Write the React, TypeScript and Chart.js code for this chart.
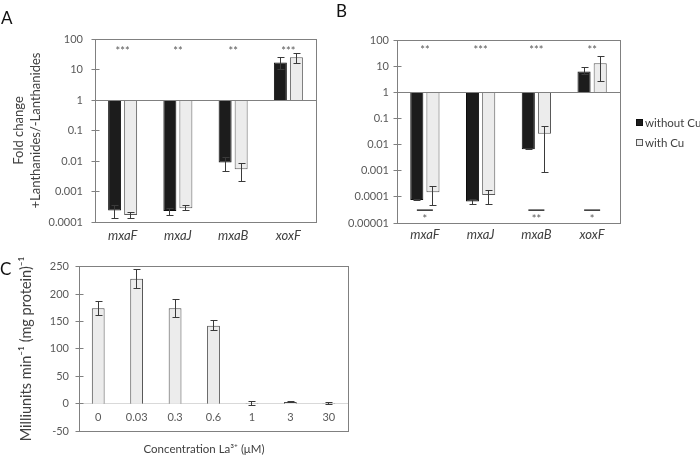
import React, { useEffect, useRef } from 'react';
import { Chart, registerables } from 'chart.js';
Chart.register(...registerables);

// ---------- data ----------
const genes = ['mxaF', 'mxaJ', 'mxaB', 'xoxF'];
const seriesNames = ['without Cu', 'with Cu'];

// Panel A (fold change, log scale)
const aWithout = [0.00024, 0.00023, 0.0089, 17];
const aWith = [0.00017, 0.00028, 0.0054, 25];
const aWithoutErr = [[0.000132, 0.00034], [0.000166, 0.00027], [0.0047, 0.0129], [10, 25]];
const aWithErr = [[0.000132, 0.00021], [0.00023, 0.00034], [0.0021, 0.0084], [16, 34]];
const aTicks = [0.0001, 0.001, 0.01, 0.1, 1, 10, 100];
const aTickLabels = ['0.0001', '0.001', '0.01', '0.1', '1', '10', '100'];
const aStars = ['***', '**', '**', '***'];

// Panel B
const bWithout = [0.000076, 0.000066, 0.0066, 6.3];
const bWith = [0.00015, 0.000118, 0.026, 13];
const bWithoutErr = [[0.00007, 0.00008], [0.000052, 0.000078], [0.0062, 0.007], [4.7, 8.5]];
const bWithErr = [[0.000045, 0.00026], [0.000052, 0.00018], [0.00089, 0.05], [2.6, 23.7]];
const bTicks = [0.00001, 0.0001, 0.001, 0.01, 0.1, 1, 10, 100];
const bTickLabels = ['0.00001', '0.0001', '0.001', '0.01', '0.1', '1', '10', '100'];
const bStars = ['**', '***', '***', '**'];
const bBottomStars = ['*', '', '**', '*'];

// Panel C
const concLabels = ['0', '0.03', '0.3', '0.6', '1', '3', '30'];
const activity = [174, 228, 174, 142, 1, 3, 1];
const activityErr = [[161, 186], [210, 245], [157, 190], [134, 151], [-4, 5], [2, 4], [-1, 2]];
const cTicks = [-50, 0, 50, 100, 150, 200, 250];

// ---------- styles ----------
const FONT = "Lato, 'Open Sans', sans-serif";
const AXIS = '#808080';
const TICK_TEXT = '#595959';
const DARK_TEXT = '#404040';
const BLACK_BAR = '#1c1c1c';
const LIGHT_BAR = '#ececec';
const BAR_EDGE = '#595959';

const crisp = (v: number) => Math.round(v - 0.5) + 0.5;

const decorPlugin: any = {
  id: 'decor',
  afterDatasetsDraw(chart: any, _args: any, opts: any) {
    const { ctx, chartArea: ca, scales } = chart;
    const ys = scales.y;
    const xs = scales.x;
    ctx.save();
    ctx.lineWidth = 1;
    // baseline
    if (opts.baseline != null) {
      const py = crisp(ys.getPixelForValue(opts.baseline));
      ctx.strokeStyle = AXIS;
      ctx.beginPath();
      ctx.moveTo(ca.left, py);
      ctx.lineTo(ca.right, py);
      ctx.stroke();
    }
    // error bars
    ctx.strokeStyle = '#3a3a3a';
    const cw = opts.capHalf ?? 3;
    chart.data.datasets.forEach((ds: any, i: number) => {
      if (!ds.errors) return;
      const meta = chart.getDatasetMeta(i);
      meta.data.forEach((el: any, j: number) => {
        const [lo, hi] = ds.errors[j];
        const x = crisp(el.x);
        const y1 = crisp(ys.getPixelForValue(lo));
        const y2 = crisp(ys.getPixelForValue(hi));
        ctx.beginPath();
        ctx.moveTo(x, y1);
        ctx.lineTo(x, y2);
        ctx.moveTo(x - cw, y1);
        ctx.lineTo(x + cw + 1, y1);
        ctx.moveTo(x - cw, y2);
        ctx.lineTo(x + cw + 1, y2);
        ctx.stroke();
      });
    });
    // frame
    ctx.strokeStyle = AXIS;
    const l = crisp(ca.left), t = crisp(ca.top), r = crisp(ca.right), b = crisp(ca.bottom);
    ctx.strokeRect(l, t, r - l, b - t);
    // y tick marks crossing the axis
    ys.ticks.forEach((_: any, k: number) => {
      const py = crisp(ys.getPixelForTick(k));
      ctx.beginPath();
      ctx.moveTo(l - 4, py);
      ctx.lineTo(l + 4, py);
      ctx.stroke();
    });
    // significance stars on top
    ctx.fillStyle = TICK_TEXT;
    ctx.textAlign = 'center';
    ctx.textBaseline = 'middle';
    ctx.font = `11px ${FONT}`;
    if (opts.stars) {
      opts.stars.forEach((s: string, j: number) => {
        ctx.fillText(s, xs.getPixelForValue(j), ys.getPixelForValue(opts.starValue) + 3);
      });
    }
    if (opts.bottomStars) {
      ctx.strokeStyle = '#303030';
      ctx.lineWidth = 1.5;
      opts.bottomStars.forEach((s: string, j: number) => {
        if (!s) return;
        const cx = xs.getPixelForValue(j);
        const ly = ys.getPixelForValue(opts.bottomLineValue);
        ctx.beginPath();
        ctx.moveTo(cx - 8, ly);
        ctx.lineTo(cx + 8, ly);
        ctx.stroke();
        ctx.fillText(s, cx, ys.getPixelForValue(opts.bottomStarValue) + 3);
      });
    }
    ctx.restore();
  },
  afterDraw(chart: any, _args: any, opts: any) {
    const { ctx, chartArea: ca } = chart;
    ctx.save();
    if (opts.letter) {
      ctx.fillStyle = '#111';
      ctx.font = `17px ${FONT}`;
      ctx.textAlign = 'left';
      ctx.textBaseline = 'alphabetic';
      ctx.fillText(opts.letter.text, opts.letter.x, opts.letter.y);
    }
    if (opts.legend) {
      const midY = (ca.top + ca.bottom) / 2;
      chart.data.datasets.forEach((ds: any, i: number) => {
        const cy = Math.round(midY - 10 + i * 20.5);
        const x0 = Math.round(ca.right + 16);
        ctx.fillStyle = ds.backgroundColor;
        ctx.fillRect(x0, cy - 3, 7, 7);
        ctx.strokeStyle = ds.borderColor;
        ctx.lineWidth = 1;
        ctx.strokeRect(x0 + 0.5, cy - 2.5, 6, 6);
        ctx.fillStyle = DARK_TEXT;
        ctx.font = `11.5px ${FONT}`;
        ctx.textAlign = 'left';
        ctx.textBaseline = 'middle';
        ctx.fillText(ds.label, x0 + 9, cy + 1);
      });
    }
    ctx.restore();
  },
};

function geneChart(canvas: HTMLCanvasElement, cfg: any) {
  return new Chart(canvas, {
    type: 'bar',
    data: {
      labels: genes,
      datasets: [
        {
          label: seriesNames[0], data: cfg.without, errors: cfg.withoutErr,
          backgroundColor: BLACK_BAR, borderColor: '#0d0d0d', borderWidth: 1, base: 1,
          barPercentage: 0.81, categoryPercentage: 0.58,
        },
        {
          label: seriesNames[1], data: cfg.with, errors: cfg.withErr,
          backgroundColor: LIGHT_BAR, borderColor: BAR_EDGE, borderWidth: 1, base: 1,
          barPercentage: 0.81, categoryPercentage: 0.58,
        },
      ] as any,
    },
    options: {
      animation: false, responsive: false, events: [],
      layout: { padding: cfg.padding },
      plugins: {
        legend: { display: false }, tooltip: { enabled: false },
        decor: cfg.decor,
      } as any,
      scales: {
        x: {
          grid: { display: false, drawTicks: false }, border: { display: false },
          ticks: { font: { family: FONT, size: 13, style: 'italic' }, color: DARK_TEXT, padding: cfg.xPad, maxRotation: 0 },
          afterFit: (s: any) => { s.height = cfg.xHeight; },
        },
        y: {
          type: 'logarithmic', min: cfg.ticks[0], max: cfg.ticks[cfg.ticks.length - 1],
          afterBuildTicks: (s: any) => { s.ticks = cfg.ticks.map((v: number) => ({ value: v })); },
          afterFit: (s: any) => { s.width = cfg.yWidth; },
          grid: { display: false, drawTicks: false }, border: { display: false },
          ticks: { callback: (_v: any, i: number) => cfg.tickLabels[i], font: { family: FONT, size: 11 }, color: TICK_TEXT, padding: cfg.yPad },
          title: cfg.yTitle ? {
            display: true, text: cfg.yTitle, color: DARK_TEXT,
            font: { family: FONT, size: 13, lineHeight: 1.3 }, padding: { top: 10.5, bottom: 0 },
          } : { display: false },
        },
      } as any,
    },
    plugins: [decorPlugin],
  });
}

function App() {
  const refA = useRef<HTMLCanvasElement>(null);
  const refB = useRef<HTMLCanvasElement>(null);
  const refC = useRef<HTMLCanvasElement>(null);

  useEffect(() => {
    const a = geneChart(refA.current!, {
      without: aWithout, with: aWith, withoutErr: aWithoutErr, withErr: aWithErr,
      ticks: aTicks, tickLabels: aTickLabels,
      padding: { top: 39, right: 24, bottom: 0, left: 0 }, xHeight: 33, yWidth: 95, yPad: 12, xPad: 6,
      yTitle: ['Fold change', '+Lanthanides/-Lanthanides'],
      decor: { baseline: 1, stars: aStars, starValue: 50, letter: { text: 'A', x: 1, y: 24 } },
    });
    const b = geneChart(refB.current!, {
      without: bWithout, with: bWith, withoutErr: bWithoutErr, withErr: bWithErr,
      ticks: bTicks, tickLabels: bTickLabels,
      padding: { top: 40, right: 80, bottom: 0, left: 0 }, xHeight: 32, yWidth: 67, yPad: 8, xPad: 4,
      yTitle: null,
      decor: {
        baseline: 1, stars: bStars, starValue: 50,
        bottomStars: bBottomStars, bottomLineValue: 0.000031, bottomStarValue: 0.000018,
        legend: true, letter: { text: 'B', x: 6, y: 17 },
      },
    });
    const c = new Chart(refC.current!, {
      type: 'bar',
      data: {
        labels: concLabels,
        datasets: [{
          label: 'activity', data: activity, errors: activityErr,
          backgroundColor: LIGHT_BAR, borderColor: '#4a4a4a', borderWidth: 1,
          barPercentage: 0.9, categoryPercentage: 0.37,
        }] as any,
      },
      options: {
        animation: false, responsive: false, events: [],
        layout: { padding: { top: 15, right: 0, bottom: 0, left: 0 } },
        plugins: {
          legend: { display: false }, tooltip: { enabled: false },
          title: {
            display: true, position: 'bottom', text: 'Concentration La³⁺ (μM)', color: DARK_TEXT,
            font: { family: FONT, size: 11.5, weight: 'normal', lineHeight: 1.2 }, padding: { top: 11, bottom: 0 },
          },
          decor: { capHalf: 3, letter: { text: 'C', x: 0, y: 25 } },
        } as any,
        scales: {
          x: {
            position: { y: 0 }, offset: true,
            grid: { display: false, drawTicks: false }, border: { display: true, color: '#d9d9d9' },
            ticks: { font: { family: FONT, size: 11 }, color: TICK_TEXT, padding: 7, maxRotation: 0 },
          },
          y: {
            min: cTicks[0], max: cTicks[cTicks.length - 1],
            afterBuildTicks: (s: any) => { s.ticks = cTicks.map((v) => ({ value: v })); },
            afterFit: (s: any) => { s.width = 79; },
            grid: { display: false, drawTicks: false }, border: { display: false },
            ticks: { font: { family: FONT, size: 11 }, color: TICK_TEXT, padding: 10 },
            title: {
              display: true, text: 'Milliunits min⁻¹ (mg protein)⁻¹', color: DARK_TEXT,
              font: { family: FONT, size: 14.5, lineHeight: 1.2 }, padding: { top: 18, bottom: 0 },
            },
          },
          // empty right-hand gutter so the bottom title centres like the original
          gutter: {
            type: 'linear', position: 'right', display: true,
            grid: { display: false, drawTicks: false }, border: { display: false },
            ticks: { display: false },
            afterFit: (s: any) => { s.width = 60; },
          },
        } as any,
      },
      plugins: [decorPlugin],
    });
    return () => { a.destroy(); b.destroy(); c.destroy(); };
  }, []);

  const abs = (left: number, top: number): React.CSSProperties => ({ position: 'absolute', left, top });
  return (
    <div style={{ position: 'fixed', left: 0, top: 0, width: 700, height: 455, background: '#fff', overflow: 'hidden' }}>
      <canvas ref={refA} width={340} height={255} style={abs(0, 0)} />
      <canvas ref={refB} width={370} height={255} style={abs(330, 0)} />
      <canvas ref={refC} width={408} height={206} style={abs(0, 250)} />
    </div>
  );
}

export default App;
